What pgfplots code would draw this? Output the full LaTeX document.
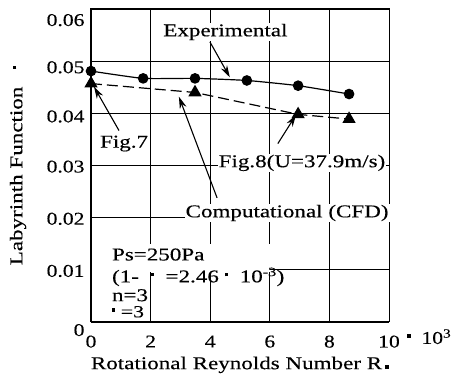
\documentclass[border=0pt]{standalone}
\usepackage{pgfplots}
\pgfplotsset{compat=1.18}
\usepackage{fontspec}
\setmainfont{Liberation Serif}[FakeStretch=1.2, FakeBold=0.25]
\newfontfamily\widefont{Liberation Serif}[FakeStretch=1.28, FakeBold=0.25]
\usetikzlibrary{arrows.meta}
\newcommand{\sq}{\rule[0.33em]{0.2em}{0.2em}}
\newcommand{\yl}[2]{\raisebox{#1}[0pt][0pt]{#2}}
\begin{document}
\begin{tikzpicture}[font=\fontsize{18}{21}\selectfont]
\begin{axis}[
  scale only axis, width=298pt, height=313pt,
  xmin=0, xmax=10, ymin=0, ymax=0.06,
  scaled x ticks=false, scaled y ticks=false,
  xtick={0,2,4,6,8,10}, xticklabels={0,2,4,6,8,10},
  ytick={0,0.01,0.02,0.03,0.04,0.05,0.06},
  yticklabels={\yl{-8pt}{0},\yl{-1pt}{0.01},\yl{-1pt}{0.02},\yl{-1pt}{0.03},\yl{-3pt}{0.04},\yl{-6pt}{0.05},\yl{-11pt}{0.06}},
  grid=major, major grid style={black, line width=0.8pt},
  axis line style={black, line width=1pt},
  major tick length=0pt,
  xticklabel style={yshift=-10pt},
  yticklabel style={xshift=-3pt, yshift=-6pt},
  xlabel={\widefont Rotational Reynolds Number R\,\rule{0.22em}{0.22em}},
  ylabel={\widefont Labyrinth Function\ \ \ \sq},
  xlabel style={at={(axis description cs:0.5,-0.137)}, anchor=center},
  ylabel style={at={(axis description cs:-0.245,0.5)}, anchor=center, rotate=0},
  clip=false,
]
\addplot[black, line width=1.2pt, smooth, tension=0.3, mark=*, mark size=4.7pt]
  coordinates {(0,0.0481) (1.75,0.0467) (3.49,0.0467) (5.23,0.0463) (6.95,0.0453) (8.66,0.0437)};
\addplot[black, line width=1.2pt, dash pattern=on 11pt off 5pt, mark=triangle*, mark size=6.5pt, mark options={solid}]
  coordinates {(0,0.0457) (3.49,0.0440) (6.95,0.0398) (8.66,0.0389)};

\coordinate (sw) at (rel axis cs:0,0);
\coordinate (ne) at (rel axis cs:1,1);

\node[fill=white, inner sep=1pt, font=\fontsize{18}{21}\widefont] at (axis cs:4.51,0.0556) {Experimental};
\draw[-{Stealth[length=12pt,width=7pt]}, line width=1.1pt] (axis cs:3.99,0.0537) -- (axis cs:4.66,0.0469);

\node[inner sep=1pt, font=\fontsize{18}{21}\widefont] at (axis cs:1.11,0.0342) {Fig.7};
\draw[-{Stealth[length=12pt,width=7pt]}, line width=1.1pt] (axis cs:0.94,0.0367) -- (axis cs:0.1,0.0451);

\draw[-{Stealth[length=12pt,width=7pt]}, line width=1.1pt] (axis cs:6.27,0.0342) -- (axis cs:6.88,0.0397);
\node[fill=white, inner sep=1pt, font=\fontsize{18}{21}\widefont] at (axis cs:7.08,0.0305) {Fig.8(U=37.9m/s)};

\draw[-{Stealth[length=12pt,width=7pt]}, line width=1.1pt] (axis cs:4.23,0.0238) -- (axis cs:2.95,0.0432);
\node[fill=white, inner sep=1pt, font=\fontsize{18}{21}\widefont] at (axis cs:6.58,0.0209) {Computational (CFD)};

\fill[white] (axis cs:0.04,0.0096) rectangle (axis cs:6.0,0.0149);
\node[anchor=base west, inner sep=0pt, font=\fontsize{18}{21}\widefont] at (axis cs:0.70,0.0118) {Ps=250Pa};
\node[anchor=base west, inner sep=0pt, font=\fontsize{18}{21}\widefont] at (axis cs:0.70,0.0076) {(1-\ \ \sq\ \ =2.46\ \sq\ \ 10\textsuperscript{-3})};
\node[anchor=base west, inner sep=0pt, font=\fontsize{18}{21}\widefont] at (axis cs:0.70,0.0040) {n=3};
\node[anchor=base west, inner sep=0pt, font=\fontsize{17}{20}\widefont] at (axis cs:0.70,0.0009) {\sq\ =3};

\node[anchor=base west, inner sep=0pt] at (axis cs:10.6,-0.0042) {\sq\ \ 10\textsuperscript{3}};
\end{axis}
\pgfresetboundingbox
\path (sw) ++(-91pt,-53pt) coordinate (a);
\path (ne) ++(64pt,9pt) coordinate (b);
\path (a) rectangle (b);
\end{tikzpicture}
\end{document}
